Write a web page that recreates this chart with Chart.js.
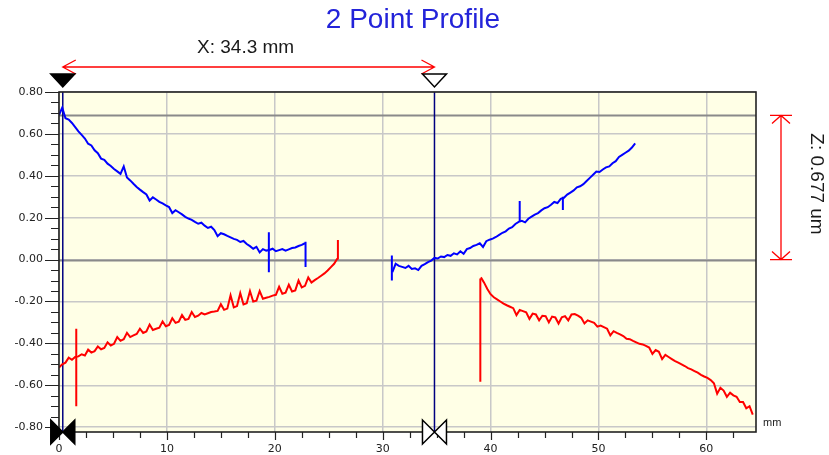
<!DOCTYPE html>
<html>
<head>
<meta charset="utf-8">
<title>2 Point Profile</title>
<script src="https://cdn.jsdelivr.net/npm/chart.js@4"></script>
<style>
  html, body { margin: 0; padding: 0; background: #fff; }
  #wrap { position: relative; width: 829px; height: 455px; }
</style>
</head>
<body>
<div id="wrap"><canvas id="profile"></canvas></div>
<script>
// ------------------------------------------------------------
// profile data: height (um) sampled every STEP_MM along x (mm)
// ------------------------------------------------------------
const STEP_MM = 0.3;

const blueLeftStart = 0.0;
const blueLeft = [
  0.690, 0.725, 0.675, 0.668, 0.652, 0.632, 0.612, 0.595, 0.578, 0.553,
  0.545, 0.522, 0.508, 0.482, 0.476, 0.458, 0.447, 0.432, 0.421, 0.409,
  0.445, 0.392, 0.378, 0.362, 0.347, 0.334, 0.322, 0.311, 0.282, 0.297,
  0.287, 0.276, 0.268, 0.259, 0.251, 0.222, 0.236, 0.226, 0.216, 0.204,
  0.196, 0.190, 0.180, 0.171, 0.176, 0.162, 0.151, 0.157, 0.141, 0.112,
  0.126, 0.121, 0.113, 0.106, 0.099, 0.094, 0.084, 0.089, 0.074, 0.064,
  0.052, 0.061, 0.034, 0.050, 0.043, 0.046, 0.052, 0.040, 0.045, 0.050,
  0.043, 0.049, 0.055, 0.058, 0.065, 0.070, 0.078,
];

const blueRightStart = 30.9;
const blueRight = [
  -0.060, -0.020, -0.030, -0.035, -0.040, -0.030, -0.045, -0.042, -0.050, -0.030,
  -0.022, -0.012, -0.005, 0.008, 0.005, 0.015, 0.012, 0.022, 0.018, 0.030,
  0.025, 0.040, 0.028, 0.050, 0.055, 0.065, 0.070, 0.078, 0.060, 0.088,
  0.095, 0.100, 0.108, 0.118, 0.128, 0.135, 0.148, 0.155, 0.170, 0.180,
  0.185, 0.178, 0.195, 0.205, 0.215, 0.222, 0.235, 0.245, 0.250, 0.262,
  0.275, 0.270, 0.290, 0.295, 0.310, 0.320, 0.330, 0.345, 0.350, 0.360,
  0.375, 0.390, 0.405, 0.420, 0.418, 0.430, 0.440, 0.445, 0.460, 0.470,
  0.490, 0.500, 0.510, 0.520, 0.535, 0.555,
];

const redLeftStart = 0.0;
const redLeft = [
  -0.515, -0.500, -0.492, -0.468, -0.478, -0.465, -0.462, -0.452, -0.458, -0.430,
  -0.444, -0.437, -0.415, -0.428, -0.422, -0.395, -0.410, -0.402, -0.370, -0.388,
  -0.380, -0.350, -0.370, -0.362, -0.355, -0.330, -0.350, -0.343, -0.310, -0.336,
  -0.330, -0.325, -0.295, -0.318, -0.312, -0.280, -0.302, -0.296, -0.265, -0.288,
  -0.283, -0.250, -0.274, -0.268, -0.255, -0.262, -0.256, -0.250, -0.248, -0.245,
  -0.213, -0.240, -0.234, -0.170, -0.228, -0.222, -0.160, -0.214, -0.208, -0.150,
  -0.200, -0.196, -0.150, -0.187, -0.182, -0.178, -0.172, -0.168, -0.130, -0.163,
  -0.158, -0.120, -0.152, -0.147, -0.100, -0.133, -0.125, -0.085, -0.110, -0.098,
  -0.088, -0.077, -0.066, -0.052, -0.036, -0.020, 0.005,
];

const redRightStart = 39.1;
const redRight = [
  -0.085, -0.110, -0.140, -0.165, -0.180, -0.190, -0.200, -0.210, -0.218, -0.225,
  -0.232, -0.265, -0.240, -0.246, -0.252, -0.283, -0.258, -0.262, -0.290, -0.268,
  -0.270, -0.300, -0.272, -0.276, -0.305, -0.275, -0.270, -0.290, -0.262, -0.260,
  -0.268, -0.278, -0.305, -0.290, -0.296, -0.302, -0.320, -0.315, -0.322, -0.330,
  -0.362, -0.342, -0.350, -0.357, -0.365, -0.378, -0.380, -0.388, -0.395, -0.402,
  -0.405, -0.412, -0.420, -0.450, -0.432, -0.440, -0.475, -0.455, -0.465, -0.475,
  -0.485, -0.492, -0.500, -0.508, -0.518, -0.524, -0.532, -0.540, -0.550, -0.558,
  -0.565, -0.575, -0.590, -0.640, -0.612, -0.625, -0.655, -0.635, -0.648, -0.655,
  -0.680, -0.680, -0.710, -0.700, -0.740,
];

// single-sample spikes: [x mm, top um, bottom um]
const blueSpikes = [[19.45, 0.13, -0.06], [22.85, 0.085, -0.035], [30.85, 0.02, -0.10], [42.7, 0.28, 0.18], [46.7, 0.30, 0.237]];
const redSpikes = [[1.6, -0.33, -0.70], [25.85, 0.093, 0.0], [39.05, -0.09, -0.583]];

// axes + cursors
const xTicks = [0, 10, 20, 30, 40, 50, 60];
const yTicks = [-0.8, -0.6, -0.4, -0.2, 0, 0.2, 0.4, 0.6, 0.8];
const xRange = [0, 64.6];
const yRange = [-0.823, 0.8];
const cursorX = [0.35, 34.8];
const cursorZ = [0.688, 0.0];
const xLabel = "X: 34.3 mm";
const zLabel = "Z: 0.677 um";

const BLUE = "#0000ff";
const RED = "#ff0000";

function trace(start, values) {
  return values.map((v, i) => ({ x: +(start + i * STEP_MM).toFixed(3), y: v }));
}

function lineSet(data, color) {
  return { data, borderColor: color, borderWidth: 2, pointRadius: 0, tension: 0, fill: false };
}

const datasets = [
  lineSet(trace(blueLeftStart, blueLeft), BLUE),
  lineSet(trace(blueRightStart, blueRight), BLUE),
  lineSet(trace(redLeftStart, redLeft), RED),
  lineSet(trace(redRightStart, redRight), RED),
  ...blueSpikes.map((s) => lineSet([{ x: s[0], y: s[1] }, { x: s[0], y: s[2] }], BLUE)),
  ...redSpikes.map((s) => lineSet([{ x: s[0], y: s[1] }, { x: s[0], y: s[2] }], RED)),
];

function triangleDown(ctx, cx, filled) {
  ctx.beginPath();
  ctx.moveTo(cx - 12, 74);
  ctx.lineTo(cx + 12, 74);
  ctx.lineTo(cx, 87);
  ctx.closePath();
  ctx.fillStyle = filled ? "#000" : "#fff";
  ctx.fill();
  ctx.strokeStyle = "#000";
  ctx.lineWidth = 1.5;
  ctx.stroke();
}

function bowtie(ctx, cx, cy, filled) {
  ctx.beginPath();
  ctx.moveTo(cx - 12, cy - 12);
  ctx.lineTo(cx - 12, cy + 12);
  ctx.lineTo(cx, cy);
  ctx.closePath();
  ctx.moveTo(cx + 12, cy - 12);
  ctx.lineTo(cx + 12, cy + 12);
  ctx.lineTo(cx, cy);
  ctx.closePath();
  ctx.fillStyle = filled ? "#000" : "#fff";
  ctx.fill();
  ctx.strokeStyle = "#000";
  ctx.lineWidth = 1.5;
  ctx.stroke();
}

const decor = {
  id: "decor",
  beforeDraw(chart) {
    const { ctx, chartArea: a } = chart;
    ctx.save();
    ctx.fillStyle = "#ffffe6";
    ctx.fillRect(a.left, a.top, a.right - a.left, a.bottom - a.top);
    ctx.restore();
  },
  beforeDatasetsDraw(chart) {
    const { ctx, chartArea: a, scales } = chart;
    ctx.save();
    // horizontal Z cursors
    ctx.strokeStyle = "#8a8a8a";
    ctx.lineWidth = 2;
    cursorZ.forEach((z) => {
      const y = Math.round(scales.y.getPixelForValue(z)) + 0.5;
      ctx.beginPath();
      ctx.moveTo(a.left, y);
      ctx.lineTo(a.right, y);
      ctx.stroke();
    });
    // vertical X cursors
    ctx.strokeStyle = "#000080";
    ctx.lineWidth = 1.5;
    cursorX.forEach((cx) => {
      const x = scales.x.getPixelForValue(cx);
      ctx.beginPath();
      ctx.moveTo(x, a.top);
      ctx.lineTo(x, a.bottom);
      ctx.stroke();
    });
    ctx.restore();
  },
  afterDraw(chart) {
    const { ctx, chartArea: a, scales } = chart;
    const sx = scales.x, sy = scales.y;
    ctx.save();

    // frame
    ctx.strokeStyle = "#222";
    ctx.lineWidth = 1.6;
    ctx.strokeRect(a.left, a.top, a.right - a.left, a.bottom - a.top);

    // tick marks (major + minor)
    ctx.strokeStyle = "#222";
    ctx.lineWidth = 1.2;
    ctx.beginPath();
    for (let v = -0.8; v <= 0.801; v += 0.05) {
      const y = Math.round(sy.getPixelForValue(v)) + 0.5;
      const major = Math.abs(v * 5 - Math.round(v * 5)) < 1e-6;
      ctx.moveTo(a.left - (major ? 14 : 8), y);
      ctx.lineTo(a.left, y);
    }
    for (let v = 0; v <= xRange[1]; v += 2.5) {
      const x = Math.round(sx.getPixelForValue(v)) + 0.5;
      const major = v % 10 === 0;
      ctx.moveTo(x, a.bottom);
      ctx.lineTo(x, a.bottom + (major ? 8 : 6));
    }
    ctx.stroke();

    // title
    ctx.fillStyle = "#2323d9";
    ctx.font = "28px 'Liberation Sans', Arial, sans-serif";
    ctx.textAlign = "center";
    ctx.textBaseline = "alphabetic";
    ctx.fillText("2 Point Profile", 413, 28);

    const x1 = sx.getPixelForValue(cursorX[0]);
    const x2 = sx.getPixelForValue(cursorX[1]);

    // X measurement arrow
    ctx.strokeStyle = RED;
    ctx.lineWidth = 1.3;
    ctx.beginPath();
    ctx.moveTo(x1, 67); ctx.lineTo(x2, 67);
    ctx.moveTo(x1 + 13, 60); ctx.lineTo(x1, 67); ctx.lineTo(x1 + 13, 74);
    ctx.moveTo(x2 - 13, 60); ctx.lineTo(x2, 67); ctx.lineTo(x2 - 13, 74);
    ctx.stroke();

    ctx.fillStyle = "#1a1a1a";
    ctx.font = "19px 'Liberation Sans', Arial, sans-serif";
    ctx.textBaseline = "middle";
    ctx.fillText(xLabel, (x1 + x2) / 2 - 3, 48);

    // Z measurement arrow
    const zx = 781;
    const z1 = sy.getPixelForValue(cursorZ[0]);
    const z2 = sy.getPixelForValue(cursorZ[1]);
    ctx.beginPath();
    ctx.moveTo(zx, z1); ctx.lineTo(zx, z2);
    ctx.moveTo(zx - 11, z1); ctx.lineTo(zx + 11, z1);
    ctx.moveTo(zx - 9, z1 + 8); ctx.lineTo(zx, z1); ctx.lineTo(zx + 9, z1 + 8);
    ctx.moveTo(zx - 11, z2); ctx.lineTo(zx + 11, z2);
    ctx.moveTo(zx - 9, z2 - 8); ctx.lineTo(zx, z2); ctx.lineTo(zx + 9, z2 - 8);
    ctx.stroke();

    ctx.save();
    ctx.translate(816, 184);
    ctx.rotate(Math.PI / 2);
    ctx.fillStyle = "#1a1a1a";
    ctx.textAlign = "center";
    ctx.textBaseline = "middle";
    ctx.fillText(zLabel, 0, 0);
    ctx.restore();

    // cursor markers
    triangleDown(ctx, x1, true);
    triangleDown(ctx, x2, false);
    bowtie(ctx, x1, a.bottom, true);
    bowtie(ctx, x2, a.bottom, false);

    // axis unit
    ctx.fillStyle = "#222";
    ctx.font = "11px 'Liberation Sans', Arial, sans-serif";
    ctx.textAlign = "left";
    ctx.textBaseline = "middle";
    ctx.fillText("mm", a.right + 7, 423);

    ctx.restore();
  },
};

new Chart(document.getElementById("profile"), {
  type: "line",
  data: { datasets },
  options: {
    responsive: true,
    maintainAspectRatio: false,
    animation: false,
    events: [],
    layout: { padding: { top: 92, right: 73, left: 0, bottom: 0 } },
    plugins: { legend: { display: false }, tooltip: { enabled: false }, title: { display: false } },
    scales: {
      x: {
        type: "linear",
        min: xRange[0],
        max: xRange[1],
        afterFit: (s) => { s.height = 23; },
        afterBuildTicks: (s) => { s.ticks = xTicks.map((v) => ({ value: v })); },
        ticks: { font: { family: "'DejaVu Sans'", size: 11 }, color: "#222", padding: 11, maxRotation: 0, callback: (v) => String(v) },
        grid: { color: "#c8c8c8", lineWidth: 1.5, drawTicks: false },
        border: { display: false },
      },
      y: {
        min: yRange[0],
        max: yRange[1],
        afterFit: (s) => { s.width = 59; },
        afterBuildTicks: (s) => { s.ticks = yTicks.map((v) => ({ value: v })); },
        ticks: { font: { family: "'DejaVu Sans'", size: 11 }, color: "#222", padding: 16, callback: (v) => (v < 0 ? "-" : "") + Math.abs(v).toFixed(2) },
        grid: { color: "#c8c8c8", lineWidth: 1.5, drawTicks: false },
        border: { display: false },
      },
    },
  },
  plugins: [decor],
});
</script>
</body>
</html>
